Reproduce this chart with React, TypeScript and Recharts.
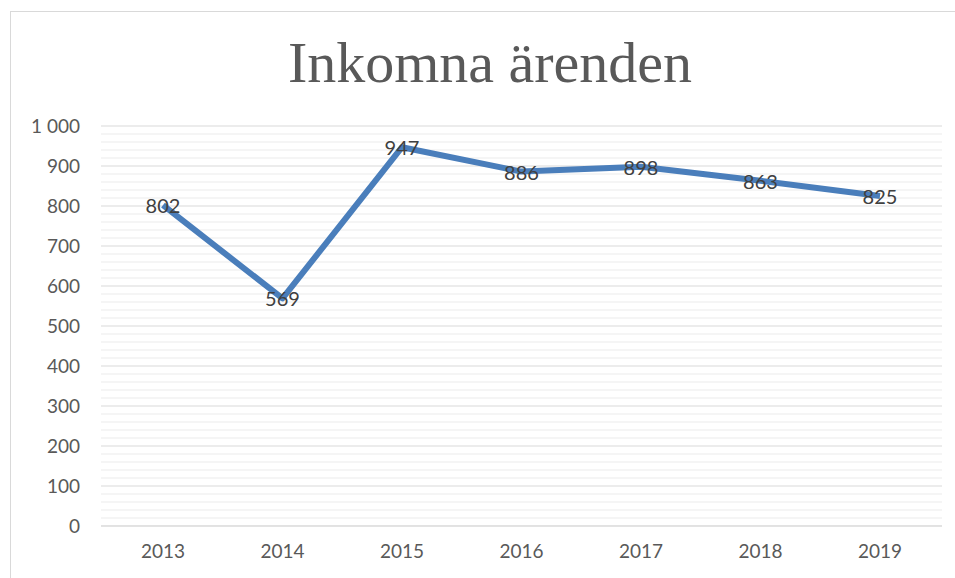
import { LineChart, Line, XAxis, YAxis, CartesianGrid, ReferenceLine, LabelList } from "recharts"

const years = ["2013", "2014", "2015", "2016", "2017", "2018", "2019"]
const arenden = [802, 569, 947, 886, 898, 863, 825]
const majorTicks = [0, 100, 200, 300, 400, 500, 600, 700, 800, 900, 1000]
const minorTicks = [
  20, 40, 60, 80, 120, 140, 160, 180, 220, 240, 260, 280, 320, 340, 360, 380, 420, 440, 460, 480,
  520, 540, 560, 580, 620, 640, 660, 680, 720, 740, 760, 780, 820, 840, 860, 880, 920, 940, 960, 980,
]

const data = years.map((year, i) => ({ year, value: arenden[i] }))

const tickFont = { fontSize: 19, fill: "#595959", fontFamily: "Lato, 'Noto Sans', sans-serif" }

const formatThousands = (v: number) => (v >= 1000 ? `${Math.floor(v / 1000)} ${String(v % 1000).padStart(3, "0")}` : String(v))

function PointLabel(props: any) {
  const { x, y, value } = props
  return (
    <text
      x={x}
      y={y}
      textAnchor="middle"
      dominantBaseline="central"
      fontSize={20}
      fill="#404040"
      fontFamily="Lato, 'Noto Sans', sans-serif"
    >
      {value}
    </text>
  )
}

export default function App() {
  return (
    <div style={{ position: "absolute", left: 0, top: 0, width: 955, height: 578, overflow: "hidden", background: "#fff" }}>
      <div
        style={{
          position: "absolute",
          left: 10,
          top: 11,
          width: 960,
          height: 580,
          borderLeft: "1px solid #d9d9d9",
          borderTop: "1px solid #d9d9d9",
        }}
      />
      <div
        style={{
          position: "absolute",
          left: 10,
          width: 960,
          top: 28,
          textAlign: "center",
          fontFamily: "'Liberation Serif', serif",
          fontSize: 58,
          color: "#595959",
          lineHeight: "70px",
        }}
      >
        Inkomna ärenden
      </div>
      <div style={{ position: "absolute", left: 0, top: 0 }}>
        <LineChart width={955} height={578} data={data} margin={{ top: 126, right: 13, bottom: 22, left: 10 }}>
          {minorTicks.map((t) => (
            <ReferenceLine key={t} y={t} stroke="#ebebeb" strokeWidth={1} />
          ))}
          <CartesianGrid vertical={false} stroke="#d9d9d9" />
          <XAxis
            dataKey="year"
            padding={{ left: 62, right: 62 }}
            axisLine={{ stroke: "#d9d9d9" }}
            tickLine={false}
            tickSize={0}
            tickMargin={19}
            height={30}
            tick={tickFont}
          />
          <YAxis
            domain={[0, 1000]}
            ticks={majorTicks}
            interval={0}
            axisLine={false}
            tickLine={false}
            tickSize={0}
            tickMargin={21}
            width={91}
            tick={tickFont}
            tickFormatter={formatThousands}
          />
          <Line
            type="linear"
            dataKey="value"
            stroke="#4a7ebb"
            strokeWidth={6}
            strokeLinejoin="round"
            dot={false}
            isAnimationActive={false}
          >
            <LabelList dataKey="value" content={<PointLabel />} />
          </Line>
        </LineChart>
      </div>
    </div>
  )
}
